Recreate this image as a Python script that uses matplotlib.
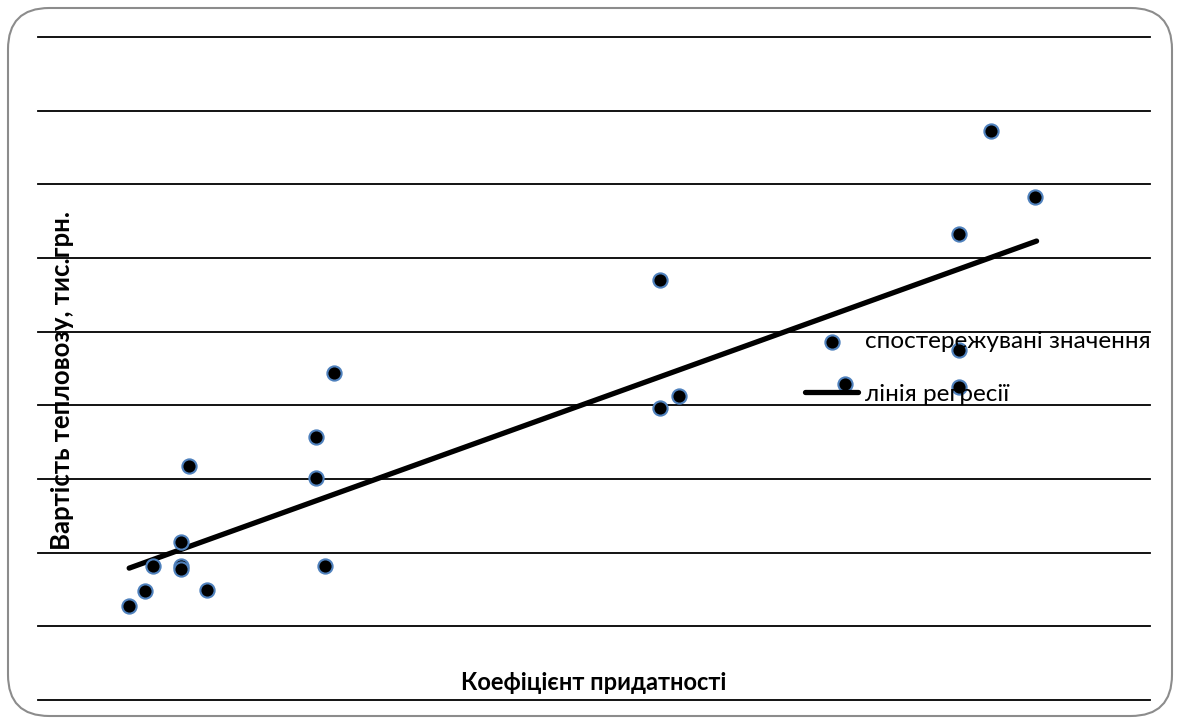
import matplotlib
matplotlib.use("Agg")
import matplotlib.pyplot as plt
from matplotlib.patches import FancyBboxPatch

plt.rcParams['font.family'] = ['Lato', 'Open Sans', 'DejaVu Sans']

# Спостережувані значення (коефіцієнт придатності, вартість тис. грн)
coef = [0.082, 0.096, 0.103, 0.129, 0.129, 0.129, 0.136, 0.152, 0.250, 0.250,
        0.258, 0.266, 0.559, 0.559, 0.576, 0.726, 0.828, 0.828, 0.828, 0.857, 0.897]
cost = [128, 148, 182, 214, 182, 178, 318, 149, 357, 301,
        182, 444, 570, 396, 413, 429, 633, 475, 425, 772, 683]

# Лінія регресії (кінцеві точки)
reg_x = [0.082, 0.898]
reg_y = [179, 623]

W, H = 1180, 724
fig = plt.figure(figsize=(W / 100, H / 100), dpi=100)

# рамка з заокругленими кутами
frame = FancyBboxPatch((8 / W, 8 / H), 1 - 16 / W, 1 - 16 / H,
                       boxstyle="round,pad=0,rounding_size=0.035",
                       transform=fig.transFigure, facecolor='none',
                       edgecolor='#8c8c8c', lw=1.5, mutation_aspect=W / H,
                       zorder=-1)
fig.patches.append(frame)

ax = fig.add_axes([38 / W, 1 - 700 / H, (1150 - 38) / W, (700 - 37) / H])
ax.set_facecolor('none')
ax.set_xlim(0, 1.0)
ax.set_ylim(0, 900)
ax.set_yticks(range(0, 901, 100))
ax.grid(True, axis='y', color='black', lw=1.3)
for gl in ax.get_ygridlines():
    gl.set_clip_on(False)
ax.tick_params(left=False, bottom=False, labelleft=False, labelbottom=False)
for s in ax.spines.values():
    s.set_visible(False)
ax.set_axisbelow(True)

ax.scatter(coef, cost, s=105, c='black', edgecolors='#4f81bd', linewidths=1.5,
           zorder=3, label='спостережувані значення')
ax.plot(reg_x, reg_y, color='black', lw=3.8, solid_capstyle='round',
        zorder=2, label='лінія регресії')

fig.legend(loc='upper left', bbox_to_anchor=(805 / W, 1 - 331 / H),
           frameon=False, fontsize=17.5, handlelength=2.2, handletextpad=0.25,
           labelspacing=1.3, borderaxespad=0, borderpad=0)

fig.text(594 / W, 1 - 683 / H, 'Коефіцієнт придатності', ha='center',
         va='center', fontsize=17, fontweight='bold')
fig.text(62 / W, 1 - 380 / H, 'Вартість тепловозу, тис.грн.', ha='center',
         va='center', rotation=90, fontsize=18.5, fontweight='bold')

fig.savefig('out.png', dpi=100)
